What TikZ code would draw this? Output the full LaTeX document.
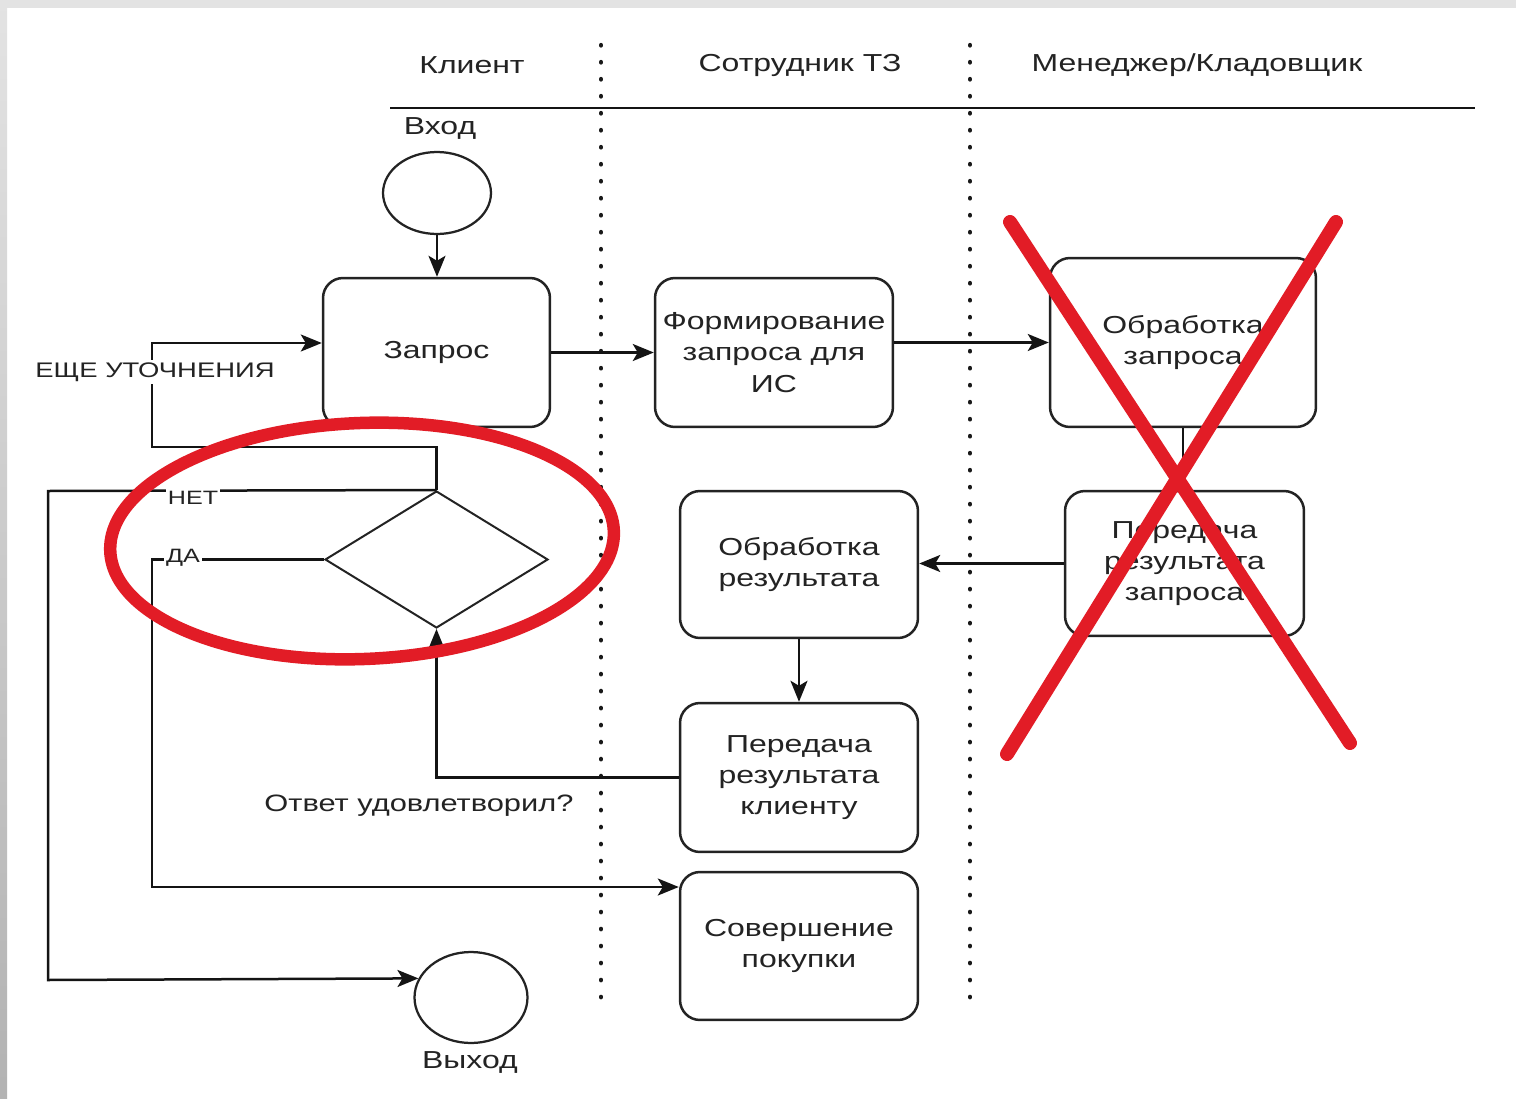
\documentclass[tikz,border=0pt]{standalone}
\usepackage{fontspec}
\setmainfont[FakeStretch=1.3]{Liberation Sans}
\usetikzlibrary{arrows.meta,shapes.geometric,calc}
\definecolor{redmark}{RGB}{226,28,38}
\definecolor{ink}{RGB}{35,35,35}
\begin{document}
\begin{tikzpicture}[x=0.02cm,y=-0.02cm,
  box/.style={draw=ink, line width=0.05cm, rounded corners=0.4cm, inner sep=0pt, align=center, text=ink, font=\fontsize{14}{17.8}\selectfont},
  conn/.style={draw=black!92, line width=0.05cm},
  arr/.style={conn, -{Stealth[length=0.42cm,width=0.34cm,inset=0.1cm]}},
  lbl/.style={text=ink, inner sep=1pt, font=\fontsize{14}{17}\selectfont},
  onlinelbl/.style={fill=white, text=ink, inner sep=1.2pt},
  dotline/.style={line width=0.085cm, line cap=round, dash pattern=on 0.01cm off 0.33cm, black!90},
  redstroke/.style={draw=redmark, line width=0.28cm, line cap=round}
]
\useasboundingbox (0,0) rectangle (1516,1099);
\fill[white] (0,0) rectangle (1516,1099);
\fill[black!11] (0,0) rectangle (1516,8);
\shade[top color=black!11, bottom color=black!30] (0,0) rectangle (7,1099);

% headers
\node[lbl] (hk) at (472,65) {Клиент};
\node[lbl] (hs) at (800,65) {Сотрудник ТЗ};
\node[lbl] (hm) at (1197,65) {Менеджер/Кладовщик};
\coordinate (h1) at (390,108);
\coordinate (h2) at (1475,108);
\draw[conn, line width=0.055cm] (h1) -- (h2);

% lane separators
\coordinate (s1t) at (601,45);
\coordinate (s1b) at (601,1000);
\coordinate (s2t) at (970,45);
\coordinate (s2b) at (970,1000);
\draw[dotline] (s1t) -- (s1b);
\draw[dotline] (s2t) -- (s2b);

% nodes
\node[draw=ink, line width=0.045cm, ellipse, minimum width=2.16cm, minimum height=1.64cm, inner sep=0pt] (vhod) at (437,193) {};
\node[lbl] (lvhod) at (440,128) {Вход};
\node[box, minimum width=4.54cm, minimum height=2.98cm] (zapros) at (436.5,352.5) {Запрос};
\node[box, minimum width=4.76cm, minimum height=2.98cm] (form) at (774,352.5) {Формирование\\запроса для\\ИС};
\node[box, minimum width=5.32cm, minimum height=3.38cm] (obr) at (1183,342.5) {Обработка\\запроса};
\node[box, minimum width=4.78cm, minimum height=2.90cm] (pered) at (1184.5,563.5) {Передача\\результата\\запроса};
\node[box, minimum width=4.76cm, minimum height=2.94cm] (obrres) at (799,564.5) {Обработка\\результата};
\node[box, minimum width=4.76cm, minimum height=2.98cm] (peredkl) at (799,777.5) {Передача\\результата\\клиенту};
\node[box, minimum width=4.76cm, minimum height=2.96cm] (sover) at (799,946) {Совершение\\покупки};
\node[draw=ink, line width=0.04cm, diamond, minimum width=4.46cm, minimum height=2.74cm, inner sep=0pt] (dia) at (436.5,559.5) {};
\node[draw=ink, line width=0.045cm, ellipse, minimum width=2.26cm, minimum height=1.82cm, inner sep=0pt] (vyhod) at (471,997.5) {};
\node[lbl] (lvyhod) at (470,1062) {Выход};
\node[lbl, font=\fontsize{13.5}{16}\selectfont] (lq) at (419,806) {Ответ удовлетворил?};

% connectors
\draw[arr] (vhod.south) -- (vhod.south |- zapros.north);
\draw[arr] (zapros.east) -- (form.west);
\draw[arr] (form.east |- obr.west) -- (obr.west);
\draw[conn] (obr.south) -- (obr.south |- pered.north);
\draw[arr] (pered.west) -- (pered.west -| obrres.east);
\draw[arr] (obrres.south) -- (peredkl.north);
\draw[arr] (peredkl.west) -| (dia.south);

\coordinate (k1) at (152,447);
\coordinate (k2) at (152,343);
\draw[arr] (dia.north) |- (k1) -- (k2) -- (k2 -| zapros.west);

\coordinate (n1) at (48,491);
\coordinate (n2) at (48,980);
\draw[arr] (dia.north) -- (n1) -- (n2) -- (vyhod.160);

\coordinate (d1) at (152,559.5);
\coordinate (d2) at (152,887);
\draw[arr] (dia.west) -- (d1) -- (d2) -- (d2 -| sover.west);

% labels on lines
\node[onlinelbl, font=\fontsize{12}{14}\selectfont] (lut) at (155,372) {ЕЩЕ УТОЧНЕНИЯ};
\node[onlinelbl, font=\fontsize{11}{13}\selectfont] (lnet) at (193,498) {НЕТ};
\node[onlinelbl, font=\fontsize{11}{13}\selectfont] (lda) at (183,558) {ДА};

% red marks
\draw[redmark, line width=0.25cm, rotate around={2.3:(362,540)}] (362,541) ellipse [x radius=252, y radius=118];
\coordinate (x1a) at (1010,222);
\coordinate (x1b) at (1350,743);
\coordinate (x2a) at (1336,222);
\coordinate (x2b) at (1007,754);
\draw[redstroke] (x1a) -- (x1b);
\draw[redstroke] (x2a) -- (x2b);
\end{tikzpicture}
\end{document}
